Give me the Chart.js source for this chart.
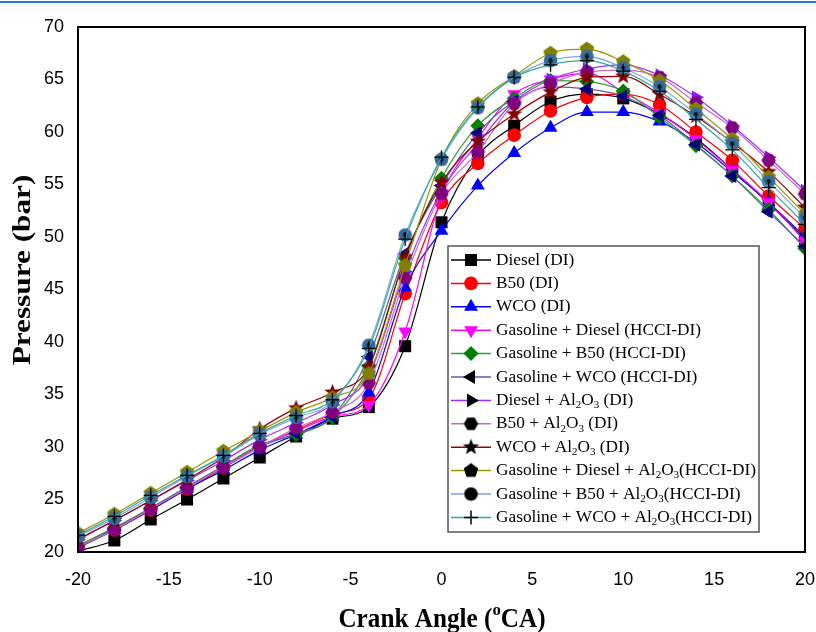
<!DOCTYPE html>
<html>
<head>
<meta charset="utf-8">
<script src="https://cdn.jsdelivr.net/npm/chart.js@4.4.0/dist/chart.umd.min.js"></script>
<style>
  body { margin: 0; background: #fff; }
  #wrap { position: relative; width: 816px; height: 632px; }
  #topline { position: absolute; left: 0; top: 1px; width: 816px; height: 2px; background: #2b7bd0; }
</style>
</head>
<body>
<div id="wrap">
  <canvas id="pressure-chart" width="816" height="632"></canvas>
  <div id="topline"></div>
</div>
<script>
// crank angle (deg CA) where the markers sit
const crankAngles = [-20, -18, -16, -14, -12, -10, -8, -6, -4, -2, 0, 2, 4, 6, 8, 10, 12, 14, 16, 18, 20];
const xTickValues = [-20, -15, -10, -5, 0, 5, 10, 15, 20];
const yTickValues = [20, 25, 30, 35, 40, 45, 50, 55, 60, 65, 70];

// "_" = subscript, "^" = superscript
const seriesNames = [
  'Diesel (DI)',
  'B50 (DI)',
  'WCO (DI)',
  'Gasoline + Diesel (HCCI-DI)',
  'Gasoline + B50 (HCCI-DI)',
  'Gasoline + WCO (HCCI-DI)',
  'Diesel + Al_2O_3 (DI)',
  'B50 + Al_2O_3 (DI)',
  'WCO + Al_2O_3 (DI)',
  'Gasoline + Diesel + Al_2O_3(HCCI-DI)',
  'Gasoline + B50 + Al_2O_3(HCCI-DI)',
  'Gasoline + WCO + Al_2O_3(HCCI-DI)'
];

// pressure (bar)
const diesel      = [20.1, 21.1, 23.1, 25.0, 27.0, 29.0, 31.0, 32.7, 33.8, 39.6, 51.4, 57.7, 60.6, 62.9, 63.6, 63.2, 61.7, 59.4, 56.4, 53.2, 49.8];
const b50         = [20.5, 22.1, 24.0, 26.0, 28.0, 30.0, 31.6, 33.1, 34.6, 44.6, 53.3, 57.0, 59.7, 62.0, 63.3, 63.6, 62.6, 60.0, 57.3, 53.9, 50.8];
const wco         = [20.4, 22.1, 24.0, 26.0, 27.8, 29.7, 31.2, 32.9, 35.2, 45.2, 50.6, 54.9, 58.0, 60.4, 61.9, 61.9, 61.0, 59.0, 56.2, 53.3, 50.0];
const gasDiesel   = [20.6, 22.3, 24.2, 26.2, 28.2, 30.1, 31.5, 32.9, 34.0, 41.0, 53.9, 59.4, 63.6, 65.0, 65.6, 63.8, 61.8, 59.3, 56.4, 53.3, 49.6];
const gasB50      = [20.6, 22.3, 24.2, 26.2, 28.2, 30.2, 31.2, 32.8, 37.7, 48.0, 55.6, 60.6, 63.2, 64.9, 64.8, 63.9, 61.4, 58.7, 55.8, 52.6, 48.9];
const gasWco      = [20.4, 22.2, 24.1, 26.1, 28.1, 30.0, 31.3, 32.9, 38.6, 48.4, 54.9, 59.9, 62.9, 64.3, 64.1, 63.4, 61.6, 58.8, 55.8, 52.4, 49.1];
const dieselAl    = [21.2, 23.0, 24.9, 26.8, 28.7, 30.7, 32.3, 34.0, 36.8, 46.7, 54.4, 58.9, 62.9, 65.0, 66.0, 66.4, 65.4, 63.3, 60.6, 57.6, 54.4];
const b50Al       = [20.5, 22.1, 24.1, 26.1, 28.1, 30.0, 31.8, 33.3, 36.1, 46.1, 54.1, 58.1, 62.7, 64.6, 65.7, 65.9, 65.2, 62.8, 60.4, 57.3, 54.1];
const wcoAl       = [21.2, 23.0, 24.9, 26.9, 29.0, 31.7, 33.7, 35.2, 37.6, 48.1, 55.2, 59.1, 61.7, 63.8, 65.2, 65.3, 63.6, 61.5, 59.0, 56.2, 52.8];
const gasDieselAl = [21.8, 23.6, 25.6, 27.6, 29.6, 31.5, 33.3, 34.7, 37.0, 47.3, 57.4, 62.7, 65.3, 67.5, 67.9, 66.7, 64.9, 62.2, 59.3, 55.7, 52.2];
const gasB50Al    = [21.5, 23.2, 25.2, 27.2, 29.1, 31.2, 32.8, 34.3, 39.7, 50.2, 57.4, 62.3, 65.2, 66.8, 67.2, 66.1, 64.3, 61.7, 58.9, 55.3, 51.8];
const gasWcoAl    = [21.6, 23.4, 25.4, 27.3, 29.2, 31.3, 33.0, 34.5, 39.4, 49.8, 57.6, 62.4, 65.2, 66.4, 66.8, 65.8, 63.9, 61.2, 58.3, 54.7, 51.2];

const seriesValues = [diesel, b50, wco, gasDiesel, gasB50, gasWco, dieselAl, b50Al, wcoAl, gasDieselAl, gasB50Al, gasWcoAl];

// styles
const lineColors   = ['#000000', '#ff0000', '#0000ff', '#ff00ff', '#2ca02c', '#5c5cb0', '#9933ff', '#cc66cc', '#990000', '#999900', '#7fa6d6', '#33a6a6'];
const markerColors = ['#000000', '#ff0000', '#0000ff', '#ff00ff', '#008000', '#000080', '#8c1aff', '#800080', '#800000', '#808000', '#336b9e', '#000000'];
const legendColors = ['#000000', '#ff0000', '#0000ff', '#ff00ff', '#008000', '#000000', '#000000', '#000000', '#000000', '#000000', '#000000', '#000000'];
const markerKinds  = ['square', 'circle', 'up', 'down', 'diamond', 'left', 'right', 'hexagon', 'star', 'pentagon', 'ball', 'plus'];

function polyCanvas(color, sides, r, inner, startAngle) {
  var size = Math.ceil(r * 2 + 2);
  var c = document.createElement('canvas');
  c.width = size; c.height = size;
  var g = c.getContext('2d');
  var n = inner ? sides * 2 : sides;
  g.beginPath();
  for (var k = 0; k < n; k++) {
    var a = startAngle + k * Math.PI * 2 / n;
    var rr = (inner && k % 2 == 1) ? inner : r;
    var px = size / 2 + rr * Math.cos(a), py = size / 2 + rr * Math.sin(a);
    if (k == 0) g.moveTo(px, py); else g.lineTo(px, py);
  }
  g.closePath();
  g.fillStyle = color;
  g.fill();
  return c;
}

function ballCanvas(color) {
  var c = document.createElement('canvas');
  c.width = 15; c.height = 15;
  var g = c.getContext('2d');
  g.beginPath(); g.arc(7.5, 7.5, 6.8, 0, Math.PI * 2);
  g.fillStyle = color; g.fill();
  if (color != '#000000') {
    g.beginPath(); g.arc(7.5, 7.5, 2.5, 0, Math.PI * 2);
    g.fillStyle = '#1b3550'; g.fill();
    g.beginPath(); g.arc(7, 7, 1, 0, Math.PI * 2);
    g.fillStyle = '#000'; g.fill();
  }
  return c;
}

// returns [pointStyle, rotation, radius]
function markerFor(kind, color) {
  if (kind == 'square') return ['rect', 0, 8.5];
  if (kind == 'circle') return ['circle', 0, 6.8];
  if (kind == 'up') return ['triangle', 0, 8];
  if (kind == 'down') return ['triangle', 180, 8];
  if (kind == 'left') return ['triangle', 270, 8];
  if (kind == 'right') return ['triangle', 90, 8];
  if (kind == 'diamond') return ['rectRot', 0, 7.5];
  if (kind == 'plus') return ['cross', 0, 7];
  if (kind == 'hexagon') return [polyCanvas(color, 6, 7.2, 0, 0), 0, 7];
  if (kind == 'star') return [polyCanvas(color, 5, 8.5, 3.6, -Math.PI / 2), 0, 8];
  if (kind == 'pentagon') return [polyCanvas(color, 5, 7.6, 0, -Math.PI / 2), 0, 7];
  return [ballCanvas(color), 0, 7];
}

var datasets = seriesValues.map(function (vals, i) {
  var m = markerFor(markerKinds[i], markerColors[i]);
  return {
    label: seriesNames[i],
    data: vals.map(function (v, j) { return { x: crankAngles[j], y: v }; }),
    borderColor: lineColors[i],
    borderWidth: 1.2,
    pointStyle: m[0],
    pointRotation: m[1],
    pointRadius: m[2],
    pointBackgroundColor: markerColors[i],
    pointBorderColor: markerColors[i],
    pointBorderWidth: markerKinds[i] == 'plus' ? 1.3 : 0,
    cubicInterpolationMode: 'monotone',
    fill: false,
    order: 20 - i
  };
});

// text with sub/superscripts
function drawRich(ctx, text, x, y, size, weight, family, dry) {
  var parts = text.split(/([_^].)/);
  var cx = x;
  parts.forEach(function (p) {
    if (!p) return;
    if (p[0] == '_' || p[0] == '^') {
      ctx.font = weight + ' ' + Math.round(size * 0.66) + 'px ' + family;
      if (!dry) ctx.fillText(p[1], cx, y + (p[0] == '_' ? size * 0.28 : -size * 0.36));
      cx += ctx.measureText(p[1]).width;
    } else {
      ctx.font = weight + ' ' + size + 'px ' + family;
      if (!dry) ctx.fillText(p, cx, y);
      cx += ctx.measureText(p).width;
    }
  });
  return cx - x;
}

var serif = '"Liberation Serif", "Times New Roman", serif';

var decorations = {
  id: 'decorations',
  afterDatasetsDraw: function (chart) {
    var ctx = chart.ctx, a = chart.chartArea;
    ctx.save();
    // frame
    ctx.strokeStyle = '#000';
    ctx.lineWidth = 2;
    ctx.strokeRect(a.left, a.top, a.right - a.left, a.bottom - a.top);

    // legend box
    var lx = 448, ly = 246, lw = 311, lh = 286, rowH = 23.4;
    ctx.fillStyle = '#fff';
    ctx.fillRect(lx, ly, lw, lh);
    ctx.strokeStyle = '#555';
    ctx.lineWidth = 1.5;
    ctx.strokeRect(lx, ly, lw, lh);
    ctx.textBaseline = 'middle';
    chart.data.datasets.forEach(function (ds, i) {
      var cy = ly + 14 + i * rowH;
      ctx.strokeStyle = lineColors[i];
      ctx.lineWidth = 1.5;
      ctx.beginPath(); ctx.moveTo(451, cy); ctx.lineTo(491, cy); ctx.stroke();
      var m = markerFor(markerKinds[i], legendColors[i]);
      ctx.fillStyle = legendColors[i];
      ctx.strokeStyle = legendColors[i];
      Chart.helpers.drawPoint(ctx, {
        pointStyle: m[0], rotation: m[1], radius: m[2],
        borderWidth: markerKinds[i] == 'plus' ? 1.3 : 0
      }, 471, cy);
      ctx.fillStyle = '#000';
      drawRich(ctx, ds.label, 496, cy, 17.3, 'normal', serif);
    });

    // axis titles
    ctx.fillStyle = '#000';
    ctx.textBaseline = 'middle';
    var xt = 'Crank Angle (^oCA)';
    ctx.save();
    ctx.translate(442, 620);
    ctx.scale(1.05, 1.1);
    var w = drawRich(ctx, xt, 0, 0, 24, 'bold', serif, true);
    drawRich(ctx, xt, -w / 2, 0, 24, 'bold', serif);
    ctx.restore();

    ctx.translate(24, 270);
    ctx.rotate(-Math.PI / 2);
    ctx.scale(1.25, 1);
    var yt = 'Pressure (bar)';
    var w2 = drawRich(ctx, yt, 0, 0, 25, 'bold', serif, true);
    drawRich(ctx, yt, -w2 / 2, 0, 25, 'bold', serif);
    ctx.restore();
  }
};

var tickFont = { family: '"Liberation Sans", Arial, sans-serif', size: 18 };

var chart = new Chart(document.getElementById('pressure-chart'), {
  type: 'line',
  data: { datasets: datasets },
  options: {
    responsive: false,
    animation: false,
    devicePixelRatio: 1,
    layout: { padding: { left: 0, right: 11, top: 27, bottom: 0 } },
    plugins: { legend: { display: false }, tooltip: { enabled: false } },
    scales: {
      x: {
        type: 'linear',
        min: -20, max: 20,
        afterBuildTicks: function (s) { s.ticks = xTickValues.map(function (v) { return { value: v }; }); },
        afterFit: function (s) { s.height = 80; s.paddingLeft = 0; s.paddingRight = 0; },
        grid: { display: false, drawTicks: false },
        border: { display: false },
        ticks: { color: '#000', font: tickFont, padding: 17, maxRotation: 0 }
      },
      y: {
        type: 'linear',
        min: 20, max: 70,
        afterBuildTicks: function (s) { s.ticks = yTickValues.map(function (v) { return { value: v }; }); },
        afterFit: function (s) { s.width = 78; s.paddingTop = 0; s.paddingBottom = 0; },
        grid: { display: false, drawTicks: false },
        border: { display: false },
        ticks: { color: '#000', font: tickFont, padding: 14 }
      }
    }
  },
  plugins: [decorations]
});
</script>
</body>
</html>
